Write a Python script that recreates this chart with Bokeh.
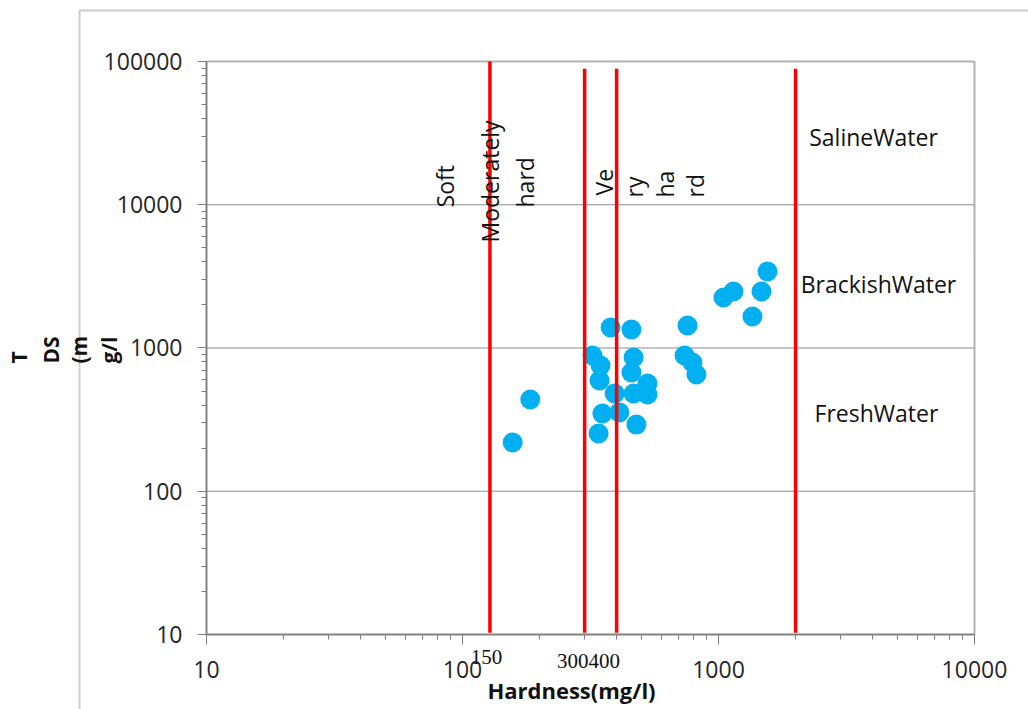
import math
from bokeh.plotting import figure
from bokeh.models import FixedTicker, Label, BoxAnnotation, ColumnDataSource
from bokeh.core.properties import value
from bokeh.embed import file_html
from bokeh.resources import INLINE

# ---- data ----
hardness = [1554, 1144, 1046, 1472, 1357, 757, 379, 457, 322, 466, 737, 346, 457,
            791, 820, 343, 393, 528, 466, 528, 184, 352, 410, 340, 478, 157]
tds = [3420, 2480, 2250, 2480, 1660, 1436, 1390, 1346, 887, 858, 887, 755, 674,
       792, 653, 593, 481, 565, 481, 474, 437, 349, 355, 253, 292, 219]

class_x = [128, 300, 400, 2000]
class_top = [100000, 89000, 89000, 89000]
class_bottom = [10.3, 10.3, 10.3, 10.3]

hard_labels = ["Soft", "Moderately", "hard", "Ve", "ry", "ha", "rd"]
hard_label_x = [85.8, 128.1, 176.2, 355.5, 465.7, 620.6, 813.1]
hard_label_y = [9570, 5452, 9570, 11600, 11235, 11235, 11235]

water_labels = ["SalineWater", "BrackishWater", "FreshWater"]
water_label_x = [4032, 4217, 4141]
water_label_y = [29950, 2820, 349]

limit_labels = ["150", "300400"]
limit_label_x = [124, 310.6]
limit_label_y = [6.95, 6.52]

x_major = [10, 100, 1000, 10000]
y_major = [10, 100, 1000, 10000, 100000]
x_tick_labels = ["10", "100", "1000", "10000"]
y_tick_labels = ["10", "100", "1000", "10000", "100000"]
grid_y = [100, 1000, 10000]

x_minor = [k * d for d in [10, 100, 1000] for k in range(2, 10)]
y_minor = [k * d for d in [10, 100, 1000, 10000] for k in range(2, 10)]

FONT = "Open Sans"

# the frame fills the whole canvas; axes are pinned at the data origin (10, 10)
p = figure(width=1028, height=709, x_axis_type="log", y_axis_type="log",
           x_range=(1.568, 16254), y_range=(2.995, 266600),
           output_backend="svg", toolbar_location=None, min_border=0)
p.background_fill_color = "white"
p.border_fill_color = "white"
p.outline_line_color = None
p.xgrid.visible = False
p.ygrid.visible = False

p.xaxis.fixed_location = 10
p.yaxis.fixed_location = 10
p.xaxis.bounds = (10, 10000)
p.yaxis.bounds = (10, 100000)
p.xaxis.ticker = FixedTicker(ticks=x_major, minor_ticks=x_minor)
p.yaxis.ticker = FixedTicker(ticks=y_major, minor_ticks=y_minor)
p.xaxis.major_label_overrides = {v: s for v, s in zip(x_major, x_tick_labels)}
p.yaxis.major_label_overrides = {v: s for v, s in zip(y_major, y_tick_labels)}
for ax in (p.xaxis, p.yaxis):
    ax.axis_line_color = "#7f7f7f"
    ax.axis_line_width = 1.5
    ax.major_tick_line_color = "#7f7f7f"
    ax.minor_tick_line_color = "#7f7f7f"
    ax.major_tick_in = 0
    ax.minor_tick_in = 0
    ax.minor_tick_out = 5
    ax.major_label_text_font = FONT
    ax.major_label_text_font_size = "23px"
    ax.major_label_text_color = "#262626"
p.xaxis.major_tick_out = 10
p.yaxis.major_tick_out = 9
p.xaxis.major_label_standoff = 17
p.yaxis.major_label_standoff = 15

# outer chart-area border (left and top edges)
p.add_layout(BoxAnnotation(left=79, right=1300, top=10, bottom=1000,
                           left_units="canvas", right_units="canvas",
                           top_units="canvas", bottom_units="canvas",
                           fill_alpha=0, line_color="#595959", line_width=2,
                           level="underlay"))
# plot-area border
p.add_layout(BoxAnnotation(left=10, right=10000, bottom=10, top=100000,
                           fill_alpha=0, line_color="black", line_width=2,
                           level="underlay"))

# horizontal grid lines
p.segment(x0=[10] * len(grid_y), y0=grid_y, x1=[10000] * len(grid_y), y1=grid_y,
          line_color="#8c8c8c", line_width=1)

# points
src = ColumnDataSource(dict(x=hardness, y=tds))
p.scatter("x", "y", source=src, size=20, fill_color="#00B0F0", line_color=None)

# classification lines
p.segment(x0=class_x, y0=class_bottom, x1=class_x, y1=class_top,
          line_color="#FF0000", line_width=3.5)

# rotated hardness labels
p.text(x=hard_label_x, y=hard_label_y, text=hard_labels, angle=math.pi / 2,
       text_align="left", text_baseline="alphabetic",
       text_font=value(FONT), text_font_size="23px", text_color="#111111")

# water class labels
p.text(x=water_label_x, y=water_label_y, text=water_labels,
       text_align="center", text_baseline="middle",
       text_font=value(FONT), text_font_size="23px", text_color="#111111")

# limit labels below the axis
p.text(x=limit_label_x, y=limit_label_y, text=limit_labels,
       text_align="center", text_baseline="alphabetic",
       text_font=value("Liberation Serif"), text_font_size="21px",
       text_color="#111111")

# x axis title
p.add_layout(Label(x=571, y=689, x_units="canvas", y_units="canvas",
                   text="Hardness(mg/l)", text_align="center",
                   text_baseline="alphabetic", text_font=FONT,
                   text_font_size="22px", text_font_style="bold",
                   text_color="#111111"))

# y axis title, broken into lines
for txt, cx in zip(["T", "DS", "(m", "g/l"], [18, 50, 78, 108]):
    p.add_layout(Label(x=cx, y=363, x_units="canvas", y_units="canvas",
                       text=txt, angle=math.pi / 2, text_align="left",
                       text_baseline="alphabetic", text_font=FONT,
                       text_font_size="21px", text_font_style="bold",
                       text_color="#111111"))

open("out.html", "w").write(file_html(p, INLINE))
